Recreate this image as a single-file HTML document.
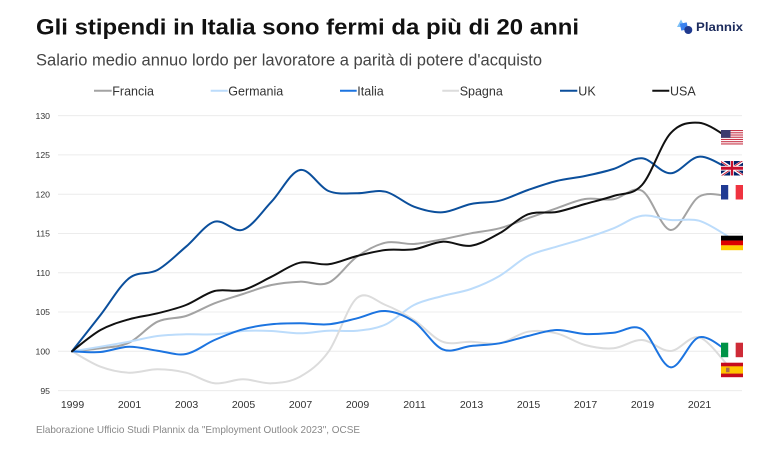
<!DOCTYPE html>
<html>
<head>
<meta charset="utf-8">
<style>
  html,body{margin:0;padding:0;background:#fff;}
  body{width:766px;height:447px;overflow:hidden;}
  svg text{font-family:"Liberation Sans",Arial,sans-serif;}
</style>
</head>
<body>
<svg width="766" height="447" viewBox="0 0 766 447" xmlns="http://www.w3.org/2000/svg">
  <rect width="766" height="447" fill="#fff"/>
  <!-- Title -->
  <text x="36" y="34.3" font-size="22.5" font-weight="700" fill="#111" textLength="543" lengthAdjust="spacingAndGlyphs">Gli stipendi in Italia sono fermi da più di 20 anni</text>
  <text x="36" y="65.7" font-size="17" fill="#444" textLength="506" lengthAdjust="spacingAndGlyphs">Salario medio annuo lordo per lavoratore a parità di potere d'acquisto</text>

  <!-- Logo -->
  <g>
    <polygon points="677,27 681,19.5 685,27" fill="#7cc0f7"/>
    <rect x="680.5" y="23" width="7" height="7" fill="#3b82f0" transform="rotate(-12 684 26.5)"/>
    <circle cx="688.3" cy="30" r="4" fill="#1f3a8f"/>
    <text x="696" y="30.8" font-size="12" font-weight="700" fill="#1c2b5c" textLength="47" lengthAdjust="spacingAndGlyphs">Plannix</text>
  </g>

  <!-- Legend -->
  <g font-size="12.5" fill="#333">
    <line x1="94" y1="90.7" x2="111.7" y2="90.7" stroke="#a3a3a3" stroke-width="2"/>
    <text x="112.3" y="95.3">Francia</text>
    <line x1="210.7" y1="90.7" x2="227.7" y2="90.7" stroke="#bcdcfb" stroke-width="2"/>
    <text x="228.3" y="95.3">Germania</text>
    <line x1="340" y1="90.7" x2="356.7" y2="90.7" stroke="#1c74e0" stroke-width="2"/>
    <text x="357.3" y="95.3">Italia</text>
    <line x1="442.3" y1="90.7" x2="459" y2="90.7" stroke="#dcdcdc" stroke-width="2"/>
    <text x="459.7" y="95.3">Spagna</text>
    <line x1="560" y1="90.7" x2="577.3" y2="90.7" stroke="#0b4f9c" stroke-width="2"/>
    <text x="578.3" y="95.3">UK</text>
    <line x1="652.3" y1="90.7" x2="669.3" y2="90.7" stroke="#111" stroke-width="2"/>
    <text x="670" y="95.3">USA</text>
  </g>

  <!-- Grid -->
  <g stroke="#ececec" stroke-width="1">
    <line x1="58" y1="115.6" x2="742" y2="115.6"/>
    <line x1="58" y1="154.9" x2="742" y2="154.9"/>
    <line x1="58" y1="194.2" x2="742" y2="194.2"/>
    <line x1="58" y1="233.5" x2="742" y2="233.5"/>
    <line x1="58" y1="272.7" x2="742" y2="272.7"/>
    <line x1="58" y1="312" x2="742" y2="312"/>
    <line x1="58" y1="351.3" x2="742" y2="351.3"/>
    <line x1="58" y1="390.6" x2="742" y2="390.6"/>
  </g>
  <g font-size="8.7" fill="#333" text-anchor="end">
    <text x="50" y="118.8">130</text>
    <text x="50" y="158.1">125</text>
    <text x="50" y="197.4">120</text>
    <text x="50" y="236.7">115</text>
    <text x="50" y="275.9">110</text>
    <text x="50" y="315.2">105</text>
    <text x="50" y="354.5">100</text>
    <text x="50" y="393.8">95</text>
  </g>
  <g font-size="10.5" fill="#333" text-anchor="middle">
    <text x="72.5" y="408">1999</text>
    <text x="129.5" y="408">2001</text>
    <text x="186.5" y="408">2003</text>
    <text x="243.5" y="408">2005</text>
    <text x="300.5" y="408">2007</text>
    <text x="357.5" y="408">2009</text>
    <text x="414.5" y="408">2011</text>
    <text x="471.5" y="408">2013</text>
    <text x="528.5" y="408">2015</text>
    <text x="585.5" y="408">2017</text>
    <text x="642.5" y="408">2019</text>
    <text x="699.5" y="408">2021</text>
  </g>

  <!-- Series -->
  <g fill="none" stroke-width="2" stroke-linejoin="round" stroke-linecap="round">
    <path class="s" stroke="#a3a3a3" d="M72,351.3 100.5,348.3 129,342.7 157.5,321.7 186,316 214.5,303.3 243,294 271.5,285 300,281.7 328.5,282.7 357,256.7 385.5,242.7 414,244 442.5,239.3 471,233.3 499.5,228.3 528,218.3 556.5,208.3 585,199 613.5,199.3 642,190.7 670.5,230 699,196.7 727.5,196"/>
    <path class="s" stroke="#bcdcfb" d="M72,351.3 100.5,346.7 129,341.7 157.5,336 186,334.3 214.5,334.3 243,331 271.5,331 300,333.3 328.5,330.7 357,330.7 385.5,324.5 414,305 442.5,296 471,289 499.5,276 528,256 556.5,246.7 585,238.3 613.5,228.3 642,215.7 670.5,220 699,220.7 727.5,236"/>
    <path class="s" stroke="#dcdcdc" d="M72,351.3 100.5,366.7 129,372.7 157.5,369.3 186,372.7 214.5,383.3 243,379.3 271.5,383.3 300,376.7 328.5,351.7 357,298 385.5,305 414,320 442.5,341.7 471,341.7 499.5,343.3 528,331.7 556.5,333.3 585,345 613.5,348.3 642,340 670.5,351 699,337.3 727.5,365"/>
    <path class="s" stroke="#1c74e0" d="M72,351.3 100.5,352 129,346.7 157.5,350.7 186,354 214.5,340 243,329.3 271.5,324.3 300,323.3 328.5,324.3 357,318.3 385.5,311 414,321.7 442.5,349.3 471,346 499.5,343.3 528,336 556.5,330 585,334 613.5,332.7 642,329.3 670.5,367.3 699,337.3 727.5,351"/>
    <path class="s" stroke="#0b4f9c" d="M72,351.3 100.5,315 129,278.3 157.5,270 186,246.7 214.5,221.7 243,229.7 271.5,201.7 300,170 328.5,191 357,193.3 385.5,191.7 414,206.7 442.5,212.3 471,204 499.5,200.7 528,190 556.5,181 585,176 613.5,169 642,158.3 670.5,173.3 699,156.7 727.5,168"/>
    <path class="s" stroke="#111111" d="M72,351.3 100.5,330 129,319.3 157.5,313.3 186,305 214.5,291 243,290 271.5,276.7 300,262.7 328.5,264.3 357,256 385.5,250 414,249.3 442.5,241.7 471,245.7 499.5,233.3 528,214.3 556.5,212 585,204 613.5,196 642,185 670.5,133.3 699,122.7 727.5,137"/>
  </g>

  <!-- Flags -->
  <!-- USA -->
  <g transform="translate(721,130)">
    <rect width="22" height="14.5" fill="#fff"/>
    <g fill="#c8374a">
      <rect y="0" width="22" height="1.12"/>
      <rect y="2.23" width="22" height="1.12"/>
      <rect y="4.46" width="22" height="1.12"/>
      <rect y="6.69" width="22" height="1.12"/>
      <rect y="8.92" width="22" height="1.12"/>
      <rect y="11.15" width="22" height="1.12"/>
      <rect y="13.38" width="22" height="1.12"/>
    </g>
    <rect width="9.5" height="7.8" fill="#3c3b6e"/>
  </g>
  <!-- UK -->
  <svg x="721" y="161" width="22" height="14.5" viewBox="0 0 60 30" preserveAspectRatio="none">
    <clipPath id="ukt"><path d="M30,15 h30 v15 z v15 h-30 z h-30 v-15 z v-15 h30 z"/></clipPath>
    <rect width="60" height="30" fill="#012169"/>
    <path d="M0,0 L60,30 M60,0 L0,30" stroke="#fff" stroke-width="6"/>
    <path d="M0,0 L60,30 M60,0 L0,30" clip-path="url(#ukt)" stroke="#C8102E" stroke-width="4"/>
    <path d="M30,0 v30 M0,15 h60" stroke="#fff" stroke-width="10"/>
    <path d="M30,0 v30 M0,15 h60" stroke="#C8102E" stroke-width="6"/>
  </svg>
  <!-- France -->
  <g transform="translate(721,185)">
    <rect width="7.33" height="14.5" fill="#1f3a93"/>
    <rect x="7.33" width="7.34" height="14.5" fill="#fff"/>
    <rect x="14.67" width="7.33" height="14.5" fill="#ef3340"/>
  </g>
  <!-- Germany -->
  <g transform="translate(721,235.7)">
    <rect width="22" height="4.83" fill="#000"/>
    <rect y="4.83" width="22" height="4.84" fill="#dd0000"/>
    <rect y="9.67" width="22" height="4.83" fill="#ffce00"/>
  </g>
  <!-- Italy -->
  <g transform="translate(721,342.7)">
    <rect width="7.33" height="14.5" fill="#009246"/>
    <rect x="7.33" width="7.34" height="14.5" fill="#fff"/>
    <rect x="14.67" width="7.33" height="14.5" fill="#ce2b37"/>
  </g>
  <!-- Spain -->
  <g transform="translate(721,362.7)">
    <rect width="22" height="14.5" fill="#c60b1e"/>
    <rect y="3.6" width="22" height="7.3" fill="#ffc400"/>
    <rect x="5" y="5" width="3.5" height="4.5" fill="#ad6b4a"/>
  </g>

  <!-- Footer -->
  <text x="36" y="433" font-size="10.5" fill="#888" textLength="324" lengthAdjust="spacingAndGlyphs">Elaborazione Ufficio Studi Plannix da "Employment Outlook 2023", OCSE</text>
</svg>
<script>
(function(){
  var paths=document.querySelectorAll('path.s');
  for(var k=0;k<paths.length;k++){
    var p=paths[k];
    var pts=p.getAttribute('d').replace(/[ML]/g,' ').trim().split(/\s+/).map(function(s){return s.split(',').map(Number);});
    var d='M'+pts[0][0]+','+pts[0][1];
    for(var i=0;i<pts.length-1;i++){
      var p0=pts[i-1]||pts[i],p1=pts[i],p2=pts[i+1],p3=pts[i+2]||pts[i+1];
      var c1x=p1[0]+(p2[0]-p0[0])/6,c1y=p1[1]+(p2[1]-p0[1])/6;
      var c2x=p2[0]-(p3[0]-p1[0])/6,c2y=p2[1]-(p3[1]-p1[1])/6;
      d+=' C'+c1x.toFixed(2)+','+c1y.toFixed(2)+' '+c2x.toFixed(2)+','+c2y.toFixed(2)+' '+p2[0]+','+p2[1];
    }
    p.setAttribute('d',d);
  }
})();
</script>
</body>
</html>
